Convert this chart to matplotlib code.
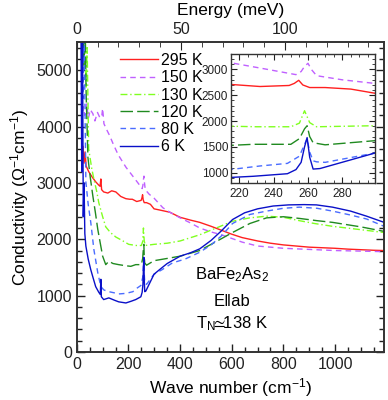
import matplotlib
matplotlib.use("Agg")
import matplotlib.pyplot as plt
from matplotlib.ticker import MultipleLocator

plt.rcParams['font.family'] = ['Liberation Sans', 'DejaVu Sans']
plt.rcParams['mathtext.fontset'] = 'custom'
plt.rcParams['mathtext.rm'] = 'Liberation Sans'
plt.rcParams['mathtext.it'] = 'Liberation Sans:italic'
plt.rcParams['mathtext.fallback'] = 'stixsans'

labels = ["295 K", "150 K", "130 K", "120 K", "80 K", "6 K"]

x_295 = [20, 24, 28, 32, 36, 46, 60, 73, 85, 90, 93, 96, 104, 120, 135, 151, 170, 190, 205, 215, 232,
         249, 252, 254.6, 257, 261, 270, 285, 299, 320, 360, 400, 440, 476, 520, 560, 600, 640, 700,
         750, 800, 850, 900, 950, 1000, 1050, 1100, 1150, 1190]
y_295 = [3300, 3650, 3350, 3550, 3300, 3200, 3100, 3020, 2960, 2940, 3070, 2880, 2840, 2820, 2860,
         2840, 2760, 2720, 2710, 2710, 2670, 2690, 2730, 2790, 2700, 2650, 2650, 2620, 2540, 2520,
         2480, 2390, 2340, 2300, 2230, 2160, 2090, 2030, 1970, 1930, 1900, 1880, 1860, 1850, 1840,
         1825, 1815, 1805, 1800]

x_150 = [20, 25, 31, 38, 45, 52, 62, 70, 80, 90, 97, 100, 105, 115, 127, 140, 160, 190, 215, 235,
         253, 256, 258, 260, 262, 265, 280, 299, 333, 360, 400, 440, 476, 520, 560, 640, 700, 800,
         900, 1000, 1100, 1190]
y_150 = [4100, 4350, 4200, 4400, 4150, 4300, 4230, 4100, 4250, 4150, 4200, 4320, 4050, 3950, 3840,
         3700, 3500, 3280, 3130, 3010, 2900, 2960, 3060, 3120, 3000, 2880, 2800, 2730, 2560, 2480,
         2380, 2290, 2200, 2130, 2080, 1950, 1880, 1840, 1820, 1800, 1790, 1780]

x_130 = [20, 24, 28, 32, 36, 40, 46, 58, 66, 77, 85, 100, 112, 130, 151, 175, 201, 230, 250, 255,
         258, 261, 265, 299, 350, 400, 476, 540, 603, 670, 735, 800, 862, 920, 990, 1100, 1190]
y_130 = [5200, 5800, 5000, 5900, 4700, 5400, 3600, 3250, 3070, 2850, 2650, 2400, 2220, 2120, 2040,
         1980, 1910, 1890, 1890, 1960, 2200, 1970, 1890, 1910, 1930, 1970, 2080, 2200, 2320, 2380,
         2410, 2390, 2330, 2280, 2230, 2170, 2120]

x_120 = [20, 24, 28, 32, 36, 43, 52, 62, 72, 81, 90, 100, 112, 124, 140, 162, 190, 209, 228, 250,
         255, 258, 259.5, 261, 263, 270, 299, 350, 400, 476, 540, 603, 670, 735, 800, 862, 930,
         990, 1100, 1190]
y_120 = [5300, 5900, 5100, 5800, 4600, 3450, 3100, 2770, 2470, 2180, 1950, 1700, 1550, 1610, 1570,
         1550, 1530, 1520, 1550, 1550, 1660, 1850, 1910, 1700, 1580, 1540, 1620, 1660, 1700, 1800,
         1960, 2120, 2280, 2380, 2400, 2370, 2330, 2300, 2220, 2140]

x_80 = [20, 24, 28, 35, 44, 54, 66, 81, 93, 105, 124, 145, 162, 190, 217, 232, 248, 255, 258, 259.5,
        261, 263, 265, 270, 299, 330, 370, 420, 476, 520, 560, 603, 670, 735, 800, 862, 930, 990,
        1060, 1122, 1190]
y_80 = [5600, 4500, 5800, 3020, 2620, 2300, 1820, 1410, 1160, 1100, 1070, 1050, 1030, 1040, 1070,
        1130, 1180, 1320, 1550, 1660, 1400, 1230, 1210, 1200, 1380, 1460, 1580, 1650, 1770, 1900,
        2060, 2280, 2440, 2500, 2550, 2570, 2550, 2500, 2430, 2360, 2230]

x_6 = [16, 19, 22, 25, 28, 31, 35, 44, 54, 64, 73, 85, 91, 93, 95, 104, 124, 145, 162, 190, 210,
       228, 248, 253, 256, 258, 259.5, 261, 263, 267, 299, 320, 350, 400, 440, 476, 520, 560, 603,
       650, 700, 760, 820, 880, 928, 990, 1060, 1122, 1190]
y_6 = [5800, 3200, 5600, 2400, 3000, 2100, 1880, 1650, 1460, 1300, 1160, 1060, 1020, 1290, 980, 930,
       960, 920, 890, 870, 900, 930, 980, 1060, 1200, 1500, 1680, 1300, 1070, 1080, 1380, 1460,
       1570, 1700, 1760, 1830, 1980, 2150, 2350, 2470, 2540, 2590, 2610, 2615, 2610, 2570, 2500,
       2410, 2300]

xs = [x_295, x_150, x_130, x_120, x_80, x_6]
ys = [y_295, y_150, y_130, y_120, y_80, y_6]
colors = ["#ff2020", "#c060ff", "#80ff20", "#208a20", "#4a6cff", "#0a10c8"]
dashes = [None, (4, 3), (5, 2, 1, 2), (9, 3), (4, 3), None]

main_xlim = (0, 1190)
main_ylim = (0, 5500)
inset_xlim = (215, 299)
inset_ylim = (800, 3300)
conv = 8.0655

fig = plt.figure(figsize=(3.88, 4.0), dpi=100)
ax = fig.add_axes([0.198, 0.12, 0.792, 0.775])

handles = []
for x, y, c, d, lab in zip(xs, ys, colors, dashes, labels):
    ln, = ax.plot(x, y, color=c, lw=1.0, label=lab)
    if d is not None:
        ln.set_dashes(d)
    handles.append(ln)

ax.set_xlim(*main_xlim)
ax.set_ylim(*main_ylim)
ax.xaxis.set_major_locator(MultipleLocator(200))
ax.xaxis.set_minor_locator(MultipleLocator(50))
ax.yaxis.set_major_locator(MultipleLocator(1000))
ax.yaxis.set_minor_locator(MultipleLocator(200))
ax.tick_params(which='both', direction='in', top=False, right=True, labelsize=11.5, width=1.0,
               colors='#222222')
ax.tick_params(which='major', length=6)
ax.tick_params(which='minor', length=3.5)
for s in ax.spines.values():
    s.set_linewidth(1.2)
    s.set_color('#333333')
ax.set_xlabel("Wave number (cm$^{-1}$)", fontsize=12.5, labelpad=3)
ax.set_ylabel("Conductivity ($\\Omega^{-1}$cm$^{-1}$)", fontsize=12.5, labelpad=4)

top = ax.twiny()
top.set_xlim(main_xlim[0] / conv, main_xlim[1] / conv)
top.xaxis.set_major_locator(MultipleLocator(50))
top.xaxis.set_minor_locator(MultipleLocator(10))
top.tick_params(which='both', direction='in', labelsize=11.5, colors='#222222')
top.tick_params(which='major', length=6)
top.tick_params(which='minor', length=3.5)
top.set_xlabel("Energy (meV)", fontsize=12.5, labelpad=5)
for s in top.spines.values():
    s.set_linewidth(1.2)
    s.set_color('#333333')

leg = ax.legend(handles=handles, loc='upper left', bbox_to_anchor=(0.12, 0.985), frameon=False,
                fontsize=11.5, handlelength=2.35, handletextpad=0.2, labelspacing=0.14,
                borderaxespad=0.0)

ax.text(600, 1380, "BaFe$_2$As$_2$", ha='center', va='center', fontsize=12)
ax.text(600, 900, "E\u2016ab", ha='center', va='center', fontsize=12)
ax.text(600, 510, "T$_\\mathrm{N}\\!\\!\\simeq\\!\\!$138 K", ha='center', va='center', fontsize=12)

ins = fig.add_axes([0.595, 0.5425, 0.371, 0.3225])
for x, y, c, d in zip(xs, ys, colors, dashes):
    ln, = ins.plot(x, y, color=c, lw=1.0)
    if d is not None:
        ln.set_dashes(d)
ins.set_xlim(*inset_xlim)
ins.set_ylim(*inset_ylim)
ins.xaxis.set_major_locator(MultipleLocator(20))
ins.xaxis.set_minor_locator(MultipleLocator(5))
ins.yaxis.set_major_locator(MultipleLocator(500))
ins.yaxis.set_minor_locator(MultipleLocator(100))
ins.tick_params(which='both', direction='in', top=True, right=True, labelsize=8.5, colors='#222222')
ins.tick_params(which='major', length=4)
ins.tick_params(which='minor', length=2.5)
ins.tick_params(axis='y', pad=2)
for s in ins.spines.values():
    s.set_linewidth(1.0)
    s.set_color('#333333')

fig.savefig("out.png", dpi=100)
